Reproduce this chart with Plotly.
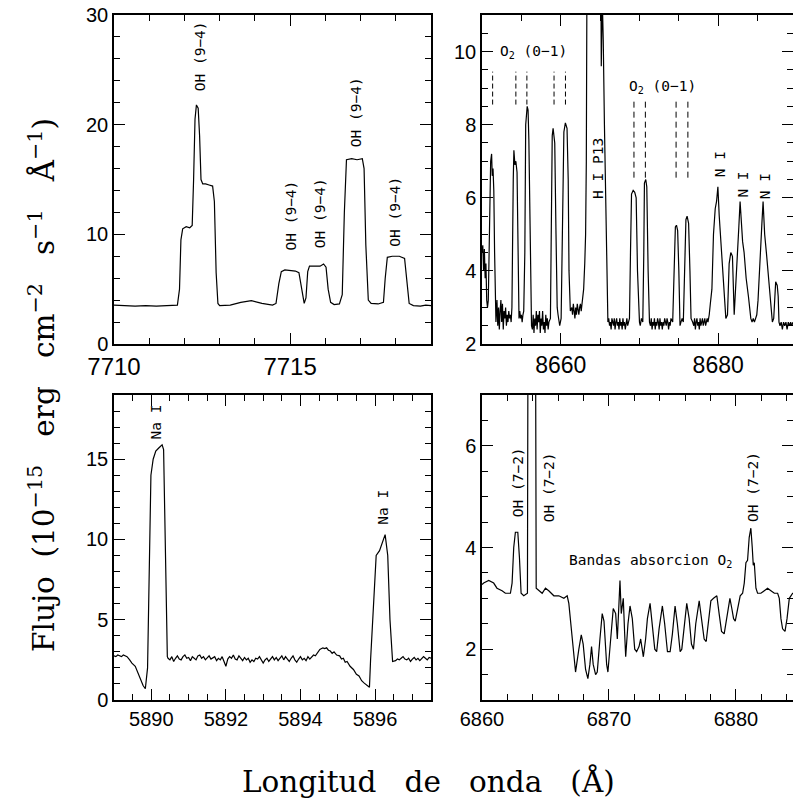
import plotly.graph_objects as go

# ---------------- data ----------------
# Panel A: 7710-7719 A (OH 9-4 lines)
tl_wave = [7710.0, 7710.3, 7710.6, 7710.9, 7711.2, 7711.5, 7711.8, 7711.86, 7711.90, 7711.95,
           7712.05, 7712.15, 7712.22, 7712.26, 7712.30, 7712.34, 7712.39, 7712.43, 7712.47, 7712.52,
           7712.60, 7712.70, 7712.80, 7712.85, 7712.90, 7712.95, 7713.0, 7713.3, 7713.6, 7713.9,
           7714.2, 7714.5, 7714.6, 7714.68, 7714.75, 7714.85, 7715.0, 7715.15, 7715.25, 7715.32,
           7715.40, 7715.45, 7715.50, 7715.55, 7715.70, 7715.85, 7715.95, 7716.02, 7716.08, 7716.15,
           7716.25, 7716.40, 7716.48, 7716.54, 7716.60, 7716.75, 7716.90, 7717.05, 7717.10, 7717.15,
           7717.22, 7717.30, 7717.5, 7717.65, 7717.70, 7717.76, 7717.90, 7718.1, 7718.25, 7718.31,
           7718.38, 7718.5, 7718.7, 7718.85, 7719.0]
tl_flux = [3.55, 3.50, 3.45, 3.50, 3.45, 3.50, 3.55, 5.0, 9.5, 10.5,
           10.7, 10.6, 10.8, 15.0, 20.5, 21.8, 21.5, 19.0, 15.0, 14.6,
           14.6, 14.5, 14.4, 13.0, 6.5, 3.7, 3.5, 3.55, 3.8, 3.95,
           3.7, 3.55, 3.7, 5.5, 6.6, 6.75, 6.7, 6.65, 6.5, 5.0,
           3.7, 4.2, 6.6, 7.1, 7.1, 7.1, 7.3, 7.0, 5.0, 3.8,
           3.6, 3.65, 4.5, 12.0, 16.8, 16.9, 16.8, 16.9, 16.0, 9.0,
           4.0, 3.7, 3.65, 3.8, 6.0, 7.9, 8.0, 8.0, 7.8, 6.0,
           3.7, 3.5, 3.45, 3.55, 3.5]

# Panel B: 8650-8689.5 A (O2 0-1, H I P13, N I)
tr_wave = [8650.0, 8650.1, 8650.2, 8650.3, 8650.4, 8650.5, 8650.6, 8650.7, 8650.8, 8650.93,
           8651.0, 8651.1, 8651.22, 8651.3, 8651.4, 8651.5, 8651.6, 8651.68, 8651.77, 8651.9,
           8652.0, 8652.1, 8652.2, 8652.3, 8652.4, 8652.5, 8652.6, 8652.7, 8652.8, 8652.9,
           8653.0, 8653.1, 8653.2, 8653.3, 8653.4, 8653.5, 8653.6, 8653.7, 8653.8, 8653.97,
           8654.05, 8654.18, 8654.3, 8654.45, 8654.6, 8654.7, 8654.8, 8654.9, 8655.0, 8655.1,
           8655.2, 8655.3, 8655.44, 8655.55, 8655.74, 8655.85, 8655.95, 8656.1, 8656.29, 8656.4,
           8656.5, 8656.6, 8656.7, 8656.8, 8656.9, 8657.0, 8657.1, 8657.2, 8657.3, 8657.4,
           8657.5, 8657.6, 8657.7, 8657.8, 8657.9, 8658.0, 8658.1, 8658.2, 8658.3, 8658.4,
           8658.5, 8658.69, 8658.82, 8658.92, 8659.03, 8659.15, 8659.24, 8659.4, 8659.55, 8659.66,
           8659.87, 8660.05, 8660.21, 8660.4, 8660.59, 8660.8, 8660.95, 8661.05, 8661.22, 8661.4,
           8661.5, 8661.6, 8661.7, 8661.8, 8661.9, 8662.0, 8662.1, 8662.2, 8662.3, 8662.4,
           8662.5, 8662.6, 8662.74, 8662.91, 8663.05, 8663.16, 8663.25, 8663.33, 8665.1, 8665.15,
           8665.27, 8665.4, 8665.55, 8665.7, 8665.85, 8665.99, 8666.1, 8666.2, 8666.3, 8666.4,
           8666.5, 8666.6, 8666.7, 8666.8, 8666.9, 8667.0, 8667.1, 8667.2, 8667.3, 8667.4,
           8667.5, 8667.6, 8667.7, 8667.8, 8667.9, 8668.0, 8668.1, 8668.2, 8668.3, 8668.4,
           8668.5, 8668.6, 8668.73, 8668.86, 8668.99, 8669.2, 8669.4, 8669.58, 8669.75, 8670.0,
           8670.1, 8670.25, 8670.42, 8670.55, 8670.63, 8670.8, 8670.93, 8671.1, 8671.27, 8671.4,
           8671.5, 8671.6, 8671.7, 8671.8, 8671.9, 8672.0, 8672.1, 8672.2, 8672.3, 8672.4,
           8672.5, 8672.6, 8672.7, 8672.8, 8672.9, 8673.0, 8673.1, 8673.2, 8673.3, 8673.4,
           8673.5, 8673.6, 8673.7, 8673.8, 8673.9, 8674.0, 8674.22, 8674.4, 8674.56, 8674.7,
           8674.85, 8675.0, 8675.15, 8675.27, 8675.42, 8675.57, 8675.75, 8675.9, 8676.05, 8676.24,
           8676.41, 8676.55, 8676.75, 8676.9, 8677.0, 8677.1, 8677.2, 8677.3, 8677.4, 8677.5,
           8677.6, 8677.7, 8677.8, 8677.9, 8678.0, 8678.1, 8678.2, 8678.3, 8678.4, 8678.5,
           8678.6, 8678.7, 8678.86, 8679.0, 8679.2, 8679.4, 8679.62, 8679.79, 8679.96, 8680.13,
           8680.28, 8680.42, 8680.6, 8680.76, 8680.97, 8681.18, 8681.39, 8681.6, 8681.81, 8682.03,
           8682.2, 8682.45, 8682.62, 8682.78, 8682.95, 8683.1, 8683.29, 8683.55, 8683.84, 8684.14,
           8684.3, 8684.45, 8684.6, 8684.77, 8684.9, 8685.06, 8685.25, 8685.4, 8685.55, 8685.7,
           8685.9, 8686.12, 8686.4, 8686.67, 8686.88, 8687.05, 8687.2, 8687.3, 8687.5, 8687.62,
           8687.72, 8687.85, 8688.0, 8688.15, 8688.3, 8688.45, 8688.6, 8688.75, 8688.9, 8689.05,
           8689.2, 8689.35, 8689.5]
tr_flux = [4.5, 4.7, 4.0, 4.6, 3.8, 4.2, 3.2, 3.0, 3.2, 5.5,
           6.8, 7.0, 7.2, 6.6, 6.8, 6.2, 4.5, 3.0, 2.6, 3.2,
           2.5, 3.0, 2.4, 2.9, 3.2, 2.6, 3.1, 2.4, 2.9, 2.7,
           3.0, 2.5, 2.8, 2.6, 2.9, 2.7, 2.8, 2.6, 3.0, 6.5,
           7.3, 6.9, 7.0, 6.7, 4.5, 2.7, 2.9, 2.7, 2.8, 2.6,
           2.8, 2.9, 4.5, 8.0, 8.5, 8.4, 7.6, 5.0, 2.5, 2.4,
           2.8, 2.3, 2.7, 2.5, 2.9, 2.4, 2.8, 2.6, 2.9, 2.3,
           2.7, 2.5, 2.9, 2.4, 2.6, 2.3, 2.8, 2.5, 2.7, 2.4,
           2.6, 2.7, 6.0, 7.7, 7.9, 7.7, 7.5, 5.0, 3.0, 2.8,
           2.5, 2.7, 5.5, 7.8, 8.05, 7.9, 6.5, 4.0, 2.9, 3.0,
           2.8, 3.1, 2.9, 2.7, 3.0, 2.8, 3.1, 2.9, 2.8, 3.0,
           3.1, 2.9, 3.2, 3.5, 4.2, 5.0, 7.0, 12.0, 12.0, 9.6,
           11.5, 10.3, 8.0, 6.0, 4.0, 2.6, 2.7, 2.5, 2.6, 2.4,
           2.7, 2.6, 2.5, 2.7, 2.4, 2.6, 2.7, 2.5, 2.6, 2.4,
           2.7, 2.5, 2.6, 2.4, 2.7, 2.5, 2.6, 2.4, 2.6, 2.7,
           2.5, 2.6, 2.7, 4.5, 6.1, 6.2, 6.15, 6.0, 4.0, 2.6,
           2.5, 2.7, 2.6, 4.5, 6.4, 6.5, 6.3, 4.0, 2.6, 2.5,
           2.7, 2.4, 2.6, 2.5, 2.7, 2.4, 2.6, 2.5, 2.7, 2.6,
           2.4, 2.7, 2.5, 2.6, 2.4, 2.6, 2.5, 2.7, 2.6, 2.5,
           2.7, 2.6, 2.4, 2.6, 2.5, 2.7, 2.6, 4.0, 5.2, 5.25,
           5.1, 4.0, 2.5, 2.6, 2.7, 2.6, 4.0, 5.4, 5.5, 5.3,
           4.0, 2.7, 2.6, 2.5, 2.7, 2.4, 2.6, 2.7, 2.5, 2.6,
           2.4, 2.7, 2.5, 2.6, 2.7, 2.5, 2.6, 2.7, 2.5, 2.6,
           2.7, 2.6, 2.8, 3.1, 3.5, 5.0, 5.7, 5.9, 6.3, 5.5,
           5.0, 4.7, 4.0, 3.3, 2.7, 2.8, 4.2, 4.5, 4.4, 2.8,
           3.4, 4.5, 5.2, 5.9, 5.3, 4.8, 4.5, 3.8, 3.3, 2.7,
           2.6, 2.7, 2.6, 2.7, 2.8, 3.2, 4.2, 4.8, 5.3, 5.9,
           5.0, 4.5, 3.8, 3.3, 2.6, 2.7, 3.5, 3.7, 3.6, 3.3,
           2.6, 2.5, 2.6, 2.4, 2.6, 2.5, 2.6, 2.4, 2.6, 2.5,
           2.6, 2.5, 2.6]

# Panel C: 5889-5897.5 A (Na I D)
bl_wave = [5889.0, 5889.05, 5889.1, 5889.15, 5889.2, 5889.25, 5889.3, 5889.35, 5889.42, 5889.48,
           5889.57, 5889.64, 5889.7, 5889.78, 5889.84, 5889.9, 5889.93, 5889.96, 5889.99, 5890.05,
           5890.12, 5890.2, 5890.25, 5890.29, 5890.33, 5890.37, 5890.40, 5890.43,
           5890.45, 5890.50, 5890.55, 5890.60, 5890.65, 5890.70, 5890.75, 5890.80, 5890.85, 5890.90,
           5890.95, 5891.00, 5891.05, 5891.10, 5891.15, 5891.20, 5891.25, 5891.30, 5891.35, 5891.40,
           5891.45, 5891.50, 5891.55, 5891.60, 5891.65, 5891.70, 5891.75, 5891.80, 5891.85, 5891.90,
           5891.95, 5892.00, 5892.05, 5892.10, 5892.15, 5892.20, 5892.25, 5892.30, 5892.35, 5892.40,
           5892.45, 5892.50, 5892.55, 5892.60, 5892.65, 5892.70, 5892.75, 5892.80, 5892.85, 5892.90,
           5892.95, 5893.00, 5893.05, 5893.10, 5893.15, 5893.20, 5893.25, 5893.30, 5893.35, 5893.40,
           5893.45, 5893.50, 5893.55, 5893.60, 5893.65, 5893.70, 5893.75, 5893.80, 5893.85, 5893.90,
           5893.95, 5894.00, 5894.05, 5894.10, 5894.15, 5894.20, 5894.25, 5894.30, 5894.35, 5894.40,
           5894.44, 5894.52, 5894.6, 5894.65, 5894.7, 5894.75, 5894.8, 5894.85, 5894.9, 5894.97,
           5895.05, 5895.1, 5895.15, 5895.2, 5895.25, 5895.33, 5895.42, 5895.5, 5895.57, 5895.64,
           5895.71, 5895.78, 5895.85, 5895.88, 5895.94, 5896.03, 5896.12, 5896.19, 5896.27, 5896.34,
           5896.40, 5896.47,
           5896.55, 5896.60, 5896.65, 5896.70, 5896.75, 5896.80, 5896.85, 5896.90, 5896.95, 5897.00,
           5897.05, 5897.10, 5897.15, 5897.20, 5897.25, 5897.30, 5897.35, 5897.40, 5897.45, 5897.50]
bl_flux = [2.75, 2.7, 2.8, 2.75, 2.7, 2.8, 2.75, 2.7, 2.5, 2.3,
           2.1, 1.7, 1.3, 0.9, 0.7, 2.0, 6.0, 11.0, 14.0, 15.0,
           15.5, 15.7, 15.8, 15.9, 15.6, 10.0, 5.0, 2.7,
           2.6, 2.5, 2.7, 2.4, 2.6, 2.75, 2.55, 2.5, 2.7, 2.8,
           2.6, 2.65, 2.45, 2.7, 2.6, 2.5, 2.75, 2.8, 2.6, 2.7,
           2.5, 2.65, 2.75, 2.55, 2.6, 2.7, 2.45, 2.6, 2.5, 2.7,
           2.4, 2.1, 2.55, 2.7, 2.6, 2.8, 2.55, 2.5, 2.75, 2.6,
           2.45, 2.65, 2.5, 2.6, 2.35, 2.5, 2.4, 2.6, 2.55, 2.7,
           2.5, 2.3, 2.5, 2.6, 2.4, 2.55, 2.7, 2.5, 2.65, 2.45,
           2.6, 2.75, 2.5, 2.7, 2.55, 2.4, 2.6, 2.75, 2.5, 2.35,
           2.55, 2.7, 2.5, 2.6, 2.45, 2.7, 2.55, 2.65, 2.8, 2.75,
           2.9, 3.15, 3.25, 3.2, 3.25, 3.1, 3.05, 2.9, 3.0, 2.8,
           2.75, 2.55, 2.6, 2.35, 2.4, 2.1, 1.9, 1.6, 1.5, 1.2,
           1.05, 0.95, 0.8, 2.5, 5.5, 9.0, 9.3, 9.8, 10.3, 9.0,
           5.0, 2.4,
           2.45, 2.55, 2.5, 2.6, 2.7, 2.55, 2.5, 2.6, 2.4, 2.55,
           2.65, 2.5, 2.6, 2.45, 2.55, 2.7, 2.6, 2.5, 2.65, 2.6]

# Panel D: 6860-6884.5 A (OH 7-2, O2 absorption bands)
br_wave = [6860.0, 6860.13, 6860.53, 6860.92, 6861.18, 6861.58, 6861.84, 6862.24, 6862.37, 6862.5,
           6862.63, 6862.82, 6862.95, 6863.08, 6863.29, 6863.58, 6863.62, 6864.22, 6864.27, 6864.47,
           6864.74, 6865.0, 6865.26, 6865.66, 6866.05, 6866.45, 6866.71, 6866.84, 6867.03, 6867.18,
           6867.37, 6867.63, 6867.82, 6867.97, 6868.16, 6868.34, 6868.5, 6868.63, 6868.76, 6868.95,
           6869.08, 6869.29, 6869.47, 6869.61, 6869.82, 6869.92, 6870.13, 6870.34, 6870.53, 6870.66,
           6870.79, 6870.87, 6870.97, 6871.13, 6871.24, 6871.32, 6871.5, 6871.66, 6871.84, 6872.03,
           6872.18, 6872.37, 6872.5, 6872.71, 6872.89, 6873.03, 6873.24, 6873.42, 6873.61, 6873.76,
           6873.95, 6874.21, 6874.39, 6874.61, 6874.82, 6875.0, 6875.21, 6875.39, 6875.61, 6875.74,
           6875.92, 6876.13, 6876.32, 6876.5, 6876.66, 6876.84, 6877.11, 6877.29, 6877.5, 6877.66,
           6877.82, 6878.03, 6878.24, 6878.5, 6878.68, 6878.87, 6879.08, 6879.29, 6879.53, 6879.68,
           6879.82, 6879.95, 6880.13, 6880.34, 6880.53, 6880.66, 6880.79, 6880.92, 6881.05, 6881.18,
           6881.29, 6881.37, 6881.45, 6881.58, 6881.71, 6881.97, 6882.24, 6882.5, 6882.76, 6883.03,
           6883.29, 6883.42, 6883.55, 6883.68, 6883.87, 6884.03, 6884.21, 6884.47, 6884.6]
br_flux = [3.27, 3.3, 3.35, 3.3, 3.2, 3.15, 3.1, 3.1, 3.3, 4.0,
           4.3, 4.3, 3.8, 3.1, 3.05, 3.1, 8.0, 8.0, 3.2, 3.15,
           3.1, 3.2, 3.15, 3.05, 3.05, 3.0, 3.05, 2.9, 2.4, 1.9,
           1.55, 2.0, 2.28, 2.1, 1.6, 1.42, 1.7, 2.05, 1.7, 1.5,
           1.55, 2.2, 2.7, 2.55, 1.7, 1.55, 2.2, 2.8, 2.7, 2.2,
           2.9, 3.35, 2.7, 3.0, 2.3, 1.85, 2.5, 2.85, 2.6, 2.0,
           1.95, 2.05, 2.2, 1.85, 2.2, 2.6, 2.9, 2.5, 2.0, 1.95,
           2.4, 2.85, 2.5, 1.95, 1.95, 2.3, 2.85, 2.5, 1.95, 2.0,
           2.4, 2.9, 2.6, 2.1, 2.0, 2.5, 2.95, 2.6, 2.2, 2.15,
           2.5, 2.95, 3.0, 3.05, 2.7, 2.35, 2.3, 2.6, 3.0, 2.8,
           2.6, 2.55, 2.8, 3.05, 3.1, 3.3, 3.7, 3.75, 4.2, 4.38,
           4.0, 3.65, 3.7, 3.2, 3.1, 3.1, 3.15, 3.2, 3.15, 3.1,
           3.1, 3.0, 2.6, 2.4, 2.35, 2.6, 3.0, 3.1, 3.1]

# O2 (0-1) marker wavelengths (dashed ticks) in panel B
o2_marks_a = [8651.35, 8654.3, 8655.7, 8659.15, 8660.6]
o2_marks_b = [8669.3, 8670.75, 8674.65, 8676.15]

# line labels: (panel, wavelength, flux, text, angle)
labels = [
    ("A", 7712.43, 26.2, "OH (9−4)", -90),
    ("A", 7715.02, 11.7, "OH (9−4)", -90),
    ("A", 7715.84, 11.9, "OH (9−4)", -90),
    ("A", 7716.86, 21.1, "OH (9−4)", -90),
    ("A", 7717.99, 12.1, "OH (9−4)", -90),
    ("B", 8656.5, 10.0, "O<sub>2</sub> (0−1)", 0),
    ("B", 8672.95, 9.02, "O<sub>2</sub> (0−1)", 0),
    ("B", 8664.7, 6.81, "H I P13", -90),
    ("B", 8680.25, 6.92, "N I", -90),
    ("B", 8683.1, 6.35, "N I", -90),
    ("B", 8685.95, 6.32, "N I", -90),
    ("C", 5890.15, 17.35, "Na I", -90),
    ("C", 5896.22, 12.0, "Na I", -90),
    ("D", 6862.9, 5.28, "OH (7−2)", -90),
    ("D", 6865.26, 5.18, "OH (7−2)", -90),
    ("D", 6881.3, 5.2, "OH (7−2)", -90),
    ("D", 6873.3, 3.73, "Bandas absorcion O<sub>2</sub>", 0),
]

x_title = "Longitud\u00a0\u00a0 de\u00a0\u00a0 onda\u00a0\u00a0 (Å)"
y_title = ("Flujo\u00a0 (10<sup>−15</sup>\u00a0\u00a0 erg\u00a0\u00a0 cm<sup>−2</sup>\u00a0\u00a0 "
           "s<sup>−1</sup>\u00a0\u00a0 Å<sup>−1</sup>)")

assert len(tl_wave) == len(tl_flux)
assert len(tr_wave) == len(tr_flux)
assert len(bl_wave) == len(bl_flux)
assert len(br_wave) == len(br_flux)

# ---------------- figure ----------------
fig = go.Figure()
line_style = dict(color="black", width=1.2)
axes_ids = {"A": ("x", "y"), "B": ("x2", "y2"), "C": ("x3", "y3"), "D": ("x4", "y4")}

for key, (wv, fx) in {"A": (tl_wave, tl_flux), "B": (tr_wave, tr_flux),
                      "C": (bl_wave, bl_flux), "D": (br_wave, br_flux)}.items():
    xa, ya = axes_ids[key]
    fig.add_trace(go.Scatter(x=wv, y=fx, mode="lines", line=line_style,
                             xaxis=xa, yaxis=ya, showlegend=False, hoverinfo="skip"))

for w in o2_marks_a:
    fig.add_trace(go.Scatter(x=[w, w], y=[8.55, 9.45], mode="lines",
                             line=dict(color="black", width=1, dash="5px,3px"),
                             xaxis="x2", yaxis="y2", showlegend=False, hoverinfo="skip"))
for w in o2_marks_b:
    fig.add_trace(go.Scatter(x=[w, w], y=[6.55, 8.65], mode="lines",
                             line=dict(color="black", width=1, dash="6px,4px"),
                             xaxis="x2", yaxis="y2", showlegend=False, hoverinfo="skip"))

ann_font = dict(family="DejaVu Sans Mono", size=14.5, color="black")
annotations = []
for panel, w, f, txt, ang in labels:
    xa, ya = axes_ids[panel]
    annotations.append(dict(x=w, y=f, xref=xa, yref=ya, text=txt, textangle=ang,
                            showarrow=False, font=ann_font, xanchor="center", yanchor="middle"))

annotations.append(dict(x=428 / 793, y=1 - 781 / 800, xref="paper", yref="paper", text=x_title,
                        showarrow=False, font=dict(family="DejaVu Serif", size=29.5, color="black"),
                        xanchor="center", yanchor="middle"))
annotations.append(dict(x=42 / 793, y=1 - 385 / 800, xref="paper", yref="paper", text=y_title,
                        textangle=-90, showarrow=False,
                        font=dict(family="DejaVu Serif", size=29.5, color="black"),
                        xanchor="center", yanchor="middle"))


def axis(domain, rng, dtick, tick0, minor_dtick, tick_size, anchor):
    return dict(domain=domain, range=rng, dtick=dtick, tick0=tick0, anchor=anchor,
                automargin=False,
                showline=True, linecolor="black", linewidth=1.5, mirror="ticks",
                ticks="inside", ticklen=11, tickwidth=1.3, tickcolor="black",
                showgrid=False, zeroline=False,
                tickfont=dict(family="Liberation Sans", size=tick_size, color="black"),
                minor=dict(ticks="inside", ticklen=6, tickwidth=1, tickcolor="black",
                           dtick=minor_dtick, showgrid=False))


xl = [114 / 793, 431 / 793]
xr = [482 / 793, 1.0]
yt = [1 - 344 / 800, 1 - 15 / 800]
yb = [1 - 700 / 800, 1 - 395 / 800]

fig.update_layout(
    width=793, height=800, margin=dict(l=0, r=0, t=0, b=0, autoexpand=False),
    paper_bgcolor="white", plot_bgcolor="white", showlegend=False,
    xaxis=axis(xl, [7710, 7719], 5, 7710, 1, 24, "y"),
    yaxis=axis(yt, [0, 30], 10, 0, 2, 20, "x"),
    xaxis2=axis(xr, [8650, 8689.5], 20, 8660, 5, 23, "y2"),
    yaxis2=axis(yt, [2, 11], 2, 2, 0.5, 20, "x2"),
    xaxis3=axis(xl, [5889, 5897.5], 2, 5890, 0.5, 20, "y3"),
    yaxis3=axis(yb, [0, 19], 5, 0, 1, 20, "x3"),
    xaxis4=axis(xr, [6860, 6884.5], 10, 6860, 2, 20, "y4"),
    yaxis4=axis(yb, [1, 7], 2, 2, 0.5, 20, "x4"),
    annotations=annotations,
)

fig.write_html("out.html")
